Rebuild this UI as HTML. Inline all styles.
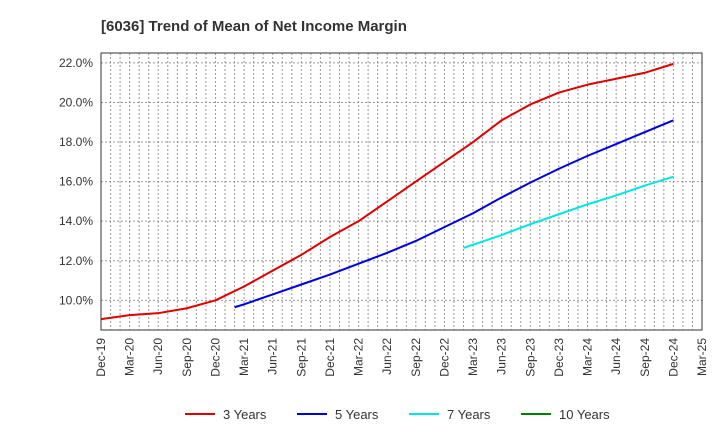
<!DOCTYPE html>
<html><head><meta charset="utf-8"><style>
body{margin:0;background:#fff;font-family:"Liberation Sans",sans-serif}
</style></head><body>
<svg id="c" width="720" height="440" xmlns="http://www.w3.org/2000/svg">
<text x="101" y="31" font-size="15" font-weight="bold" fill="#333">[6036]  Trend of Mean of Net Income Margin</text>
</svg>
<script>
const xLabels=["Dec-19","Mar-20","Jun-20","Sep-20","Dec-20","Mar-21","Jun-21","Sep-21","Dec-21","Mar-22","Jun-22","Sep-22","Dec-22","Mar-23","Jun-23","Sep-23","Dec-23","Mar-24","Jun-24","Sep-24","Dec-24","Mar-25"];
const yTicks=[10,12,14,16,18,20,22];
const m3=[0,3,6,9,12,15,18,21,24,27,30,33,36,39,42,45,48,51,54,57,60];
const v3=[9.05,9.25,9.35,9.6,10.0,10.7,11.5,12.3,13.2,14.0,15.0,16.0,17.0,18.0,19.1,19.9,20.5,20.9,21.2,21.5,21.95];
const m5=[14,15,18,21,24,27,30,33,36,39,42,45,48,51,54,57,60];
const v5=[9.65,9.8,10.3,10.8,11.3,11.85,12.4,13.0,13.7,14.4,15.2,15.95,16.65,17.3,17.9,18.5,19.1];
const m7=[38,42,45,48,51,54,57,60];
const v7=[12.65,13.3,13.85,14.35,14.85,15.3,15.8,16.25];
const L=101,R=702,T=53,B=330,yMin=8.5,yMax=22.5,mMax=63;
const X=m=>L+(R-L)*m/mMax, Y=v=>B-(B-T)*(v-yMin)/(yMax-yMin);
const svg=document.getElementById('c'),NS="http://www.w3.org/2000/svg";
function mk(t,a){const e=document.createElementNS(NS,t);for(const k in a)e.setAttribute(k,a[k]);svg.appendChild(e);return e;}
for(let m=1;m<mMax;m++){const g=mk('line',{x1:X(m),x2:X(m),y1:T,y2:B,stroke:'#999','stroke-dasharray':'2,2','stroke-width':1});

}
yTicks.forEach(v=>{const g=mk('line',{x1:L,x2:R,y1:Y(v),y2:Y(v),stroke:'#999','stroke-dasharray':'2,2'});


const t=mk('text',{x:L-8,y:Y(v)+4,'text-anchor':'end','font-size':12,fill:'#333'});t.textContent=v.toFixed(1)+'%';

});
const fr=mk('rect',{x:L,y:T,width:R-L,height:B-T,fill:'none',stroke:'#333','stroke-width':1});


xLabels.forEach((s,i)=>{const x=X(i*3);const t=mk('text',{transform:`translate(${x+4},${B+8}) rotate(-90)`,'text-anchor':'end','font-size':12,fill:'#333'});t.textContent=s;

});
function series(ms,vs,c,n){const p=mk('polyline',{points:ms.map((m,i)=>X(m)+','+Y(vs[i])).join(' '),fill:'none',stroke:c,'stroke-width':2,'stroke-linejoin':'round'});

}
series(m3,v3,'#e00000','line-3-years');
series(m5,v5,'#0000dd','line-5-years');
series(m7,v7,'#00e5e5','line-7-years');
const leg=[["3 Years","#e00000",185],["5 Years","#0000dd",297],["7 Years","#00e5e5",409],["10 Years","#008000",521]];
leg.forEach(([s,c,x])=>{const l=mk('line',{x1:x,x2:x+30,y1:414,y2:414,stroke:c,'stroke-width':2});


const t=mk('text',{x:x+38,y:419,'font-size':13,fill:'#333'});t.textContent=s;

});
</script>
</body></html>
